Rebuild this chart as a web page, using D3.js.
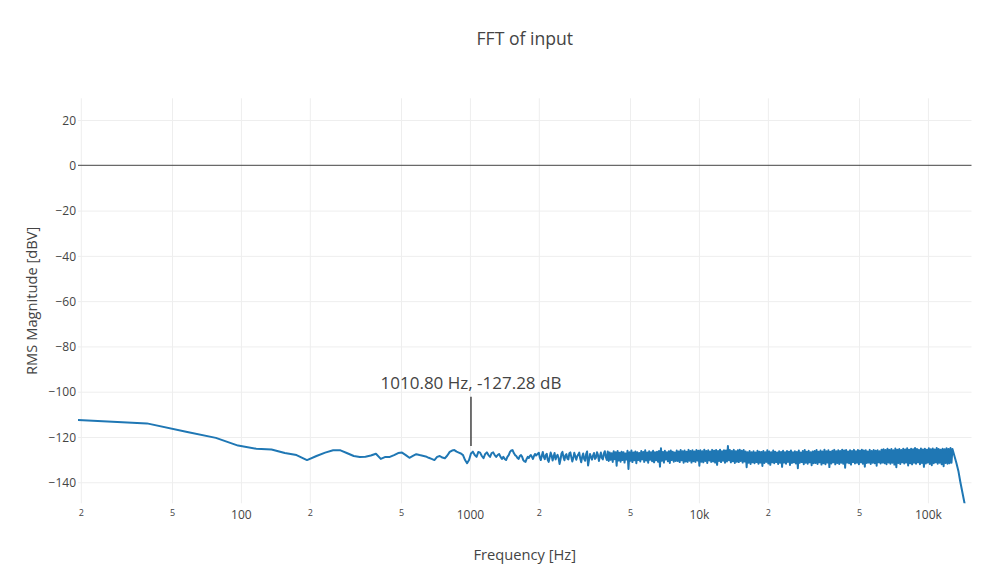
<!DOCTYPE html>
<html>
<head>
<meta charset="utf-8">
<title>FFT of input</title>
<script src="https://cdn.jsdelivr.net/npm/d3@7"></script>
<style>
  html, body { margin: 0; padding: 0; background: #fff; }
  svg { display: block; font-family: "Open Sans", verdana, arial, sans-serif; }
</style>
</head>
<body>
<svg id="chart" width="1008" height="567"></svg>
<script>
// ---- spectrum data -------------------------------------------------------
// Low end: one magnitude per FFT bin (bin k sits at k * binWidthHz)
const binWidthHz = 19.4385;
const lowBinMagDb = [
  -112.5, -114.0, -117.8, -120.4, -123.8, -125.2, -125.5, -127.1, -128.0, -130.2,
  -128.4, -126.9, -125.9, -125.9, -127.2, -128.4, -128.8, -128.7, -128.2, -127.4,
  -129.7, -128.8, -128.8, -128.0, -127.1, -126.9, -128.0, -129.2, -128.4, -127.6,
  -128.0, -128.3, -128.6, -129.2, -129.7, -130.2, -128.8, -128.4, -129.1, -129.4,
  -128.2, -126.6, -126.0, -125.8, -126.5, -126.9, -127.3, -128.0, -130.2, -131.6,
  -130.2, -127.28, -126.5, -128.0, -128.8, -126.6, -126.9, -128.4, -129.4, -127.5,
  -126.8, -128.0, -128.8, -127.1, -126.8, -128.0, -128.8, -128.0, -127.5, -128.8,
  -129.7, -128.8, -129.7, -130.2, -128.8, -128.0, -126.6, -126.0, -125.8, -127.1,
  -128.0, -128.4, -129.3, -129.7, -128.4, -128.0, -128.8, -130.2, -130.8, -131.0,
  -129.7, -128.8, -129.3, -128.4, -128.0, -128.8, -129.7, -128.4, -127.5, -128.2
];

// Upper band (2 kHz - 128 kHz): noise floor, one octave per row group
const bandFreqHz = [
  2000, 2020, 2040, 2061, 2081, 2102, 2122, 2144, 2165, 2187, 2208, 2230, 2252, 2275, 2297, 2320, 2343, 2367,
  2390, 2414, 2438, 2463, 2487, 2512, 2536, 2562, 2587, 2613, 2639, 2666, 2692, 2719, 2746, 2773, 2800, 2828,
  2856, 2885, 2914, 2943, 2972, 3002, 3031, 3062, 3092, 3123, 3154, 3186, 3217, 3249, 3281, 3314, 3347, 3381,
  3414, 3448, 3482, 3517, 3552, 3588, 3623, 3659, 3695, 3732, 3769, 3807, 3844, 3883, 3921, 3961,
  4000, 4040, 4080, 4121, 4162, 4204, 4245, 4288, 4330, 4373, 4416, 4461, 4505, 4550, 4595, 4641, 4687, 4734,
  4780, 4828, 4876, 4925, 4974, 5024, 5073, 5124, 5174, 5226, 5278, 5331, 5384, 5438, 5491, 5546, 5601, 5657,
  5713, 5770, 5827, 5886, 5944, 6004, 6063, 6124, 6184, 6246, 6308, 6371, 6434, 6498, 6562, 6628, 6694, 6761,
  6828, 6896, 6964, 7034, 7103, 7175, 7246, 7318, 7390, 7464, 7538, 7614, 7689, 7766, 7843, 7922,
  8000, 8080, 8160, 8242, 8323, 8407, 8490, 8575, 8659, 8746, 8833, 8922, 9010, 9100, 9190, 9282, 9374, 9468,
  9561, 9657, 9752, 9850, 9947, 10047, 10146, 10248, 10349, 10453, 10556, 10662, 10767, 10875, 10982, 11092,
  11202, 11314, 11426, 11540, 11654, 11771, 11887, 12007, 12126, 12247, 12368, 12492, 12615, 12741, 12867,
  12996, 13125, 13256, 13387, 13521, 13655, 13792, 13928, 14067, 14206, 14349, 14491, 14636, 14781, 14929,
  15076, 15227, 15378, 15532, 15686, 15843,
  16000, 16160, 16320, 16483, 16646, 16813, 16979, 17149, 17318, 17492, 17666, 17843, 18019, 18199, 18379,
  18563, 18747, 18935, 19122, 19313, 19504, 19699, 19894, 20093, 20291, 20495, 20698, 20905, 21112, 21323,
  21534, 21750, 21965, 22184, 22403, 22627, 22851, 23080, 23309, 23542, 23774, 24013, 24251, 24494, 24736,
  24983, 25230, 25482, 25734, 25992, 26250, 26512, 26774, 27042, 27310, 27583, 27856, 28135, 28413, 28698,
  28982, 29272, 29562, 29857, 30152, 30454, 30755, 31063, 31371, 31686,
  32000, 32320, 32640, 32967, 33293, 33626, 33958, 34298, 34637, 34984, 35331, 35685, 36038, 36398, 36758,
  37126, 37494, 37869, 38243, 38626, 39008, 39399, 39789, 40186, 40582, 40989, 41395, 41810, 42224, 42647,
  43069, 43500, 43930, 44368, 44806, 45254, 45702, 46160, 46618, 47084, 47549, 48026, 48502, 48987, 49472,
  49967, 50461, 50965, 51469, 51984, 52499, 53024, 53549, 54085, 54621, 55167, 55712, 56269, 56826, 57396,
  57965, 58544, 59123, 59714, 60304, 60907, 61510, 62126, 62742, 63371,
  64000, 64640, 65280, 65933, 66586, 67252, 67917, 68596, 69274, 69968, 70662, 71370, 72077, 72797, 73517,
  74253, 74989, 75738, 76486, 77251, 78016, 78797, 79578, 80372, 81165, 81978, 82790, 83619, 84448, 85293,
  86138, 86999, 87859, 88736, 89613, 90509, 91405, 92320, 93235, 94167, 95098, 96052, 97005, 97975, 98944,
  99933, 100922, 101930, 102938, 103968, 104998, 106048, 107098, 108170, 109242, 110333, 111424, 112538,
  113651, 114791, 115930, 117088, 118246, 119427, 120608, 121815, 123021, 124253, 125485, 126743, 128000
];
const bandMagDb = [
  // 2 - 4 kHz
  -127.0, -129.1, -130.2, -128.3, -126.6, -128.8, -129.8, -128.0, -127.4, -130.1,
  -131.0, -129.0, -126.9, -128.2, -130.4, -128.6, -127.1, -129.9, -128.7, -127.9,
  -129.2, -131.9, -130.0, -127.3, -126.6, -128.9, -130.3, -128.1, -127.6, -129.6,
  -129.9, -127.2, -126.8, -129.0, -130.8, -129.3, -127.0, -128.4, -130.1, -128.5,
  -127.8, -126.9, -129.4, -131.2, -128.8, -127.3, -129.7, -130.5, -127.6, -126.4,
  -132.6, -130.0, -127.5, -128.9, -130.0, -128.2, -127.1, -129.7, -129.1, -126.7,
  -127.9, -130.6, -128.6, -126.9, -129.3, -129.9, -127.4, -126.3, -128.8, -130.2,
  // 4 - 8 kHz
  -126.4, -130.6, -126.9, -130.1, -127.2, -131.0, -126.3, -129.8, -126.8, -132.7,
  -126.2, -130.4, -127.0, -130.9, -126.5, -130.2, -126.7, -131.3, -127.3, -130.0,
  -126.1, -134.1, -126.8, -130.5, -126.0, -131.1, -126.9, -130.3, -126.4, -131.6,
  -126.7, -130.2, -127.1, -130.8, -126.2, -129.9, -126.6, -131.0, -125.9, -130.4,
  -126.9, -131.4, -126.3, -130.1, -126.7, -130.7, -126.1, -131.2, -126.8, -130.3,
  -126.5, -130.9, -126.2, -133.1, -125.0, -130.5, -126.6, -131.3, -126.1, -130.0,
  -126.8, -130.7, -126.3, -131.5, -126.0, -130.2, -126.5, -130.9, -126.9, -130.6,
  // 8 - 16 kHz
  -126.0, -130.6, -126.4, -131.1, -125.8, -130.3, -126.3, -131.4, -126.0, -130.8,
  -126.5, -131.0, -125.7, -130.5, -126.2, -131.3, -125.9, -130.7, -126.4, -131.0,
  -125.8, -130.4, -126.1, -132.7, -125.9, -130.9, -126.3, -131.2, -125.6, -130.6,
  -126.2, -131.5, -125.9, -130.4, -126.4, -131.0, -125.7, -130.8, -126.1, -131.3,
  -125.8, -132.3, -126.2, -130.6, -125.6, -131.1, -126.3, -130.5, -125.9, -131.4,
  -126.0, -130.8, -124.0, -130.3, -125.8, -131.2, -126.2, -130.7, -125.7, -131.5,
  -126.3, -130.9, -125.9, -131.1, -125.6, -130.6, -126.1, -131.3, -125.8, -130.8,
  // 16 - 32 kHz
  -126.4, -133.4, -126.7, -131.4, -126.2, -131.9, -126.8, -131.2, -126.3, -131.6,
  -126.9, -131.1, -126.1, -131.8, -126.5, -131.3, -126.6, -132.8, -126.2, -131.5,
  -126.7, -131.0, -125.9, -131.7, -126.4, -132.3, -126.8, -131.2, -126.0, -131.6,
  -126.5, -131.1, -126.9, -131.9, -126.3, -131.4, -126.6, -133.2, -126.1, -131.3,
  -126.7, -131.8, -126.2, -131.0, -126.5, -132.4, -126.0, -131.5, -126.8, -131.2,
  -126.3, -131.7, -126.6, -133.8, -126.0, -131.4, -126.9, -131.1, -126.2, -132.0,
  -125.8, -131.4, -126.5, -131.8, -126.1, -131.2, -126.7, -132.5, -126.4, -131.6,
  // 32 - 64 kHz
  -126.2, -131.5, -125.8, -131.9, -126.5, -131.2, -126.0, -132.2, -126.4, -131.6,
  -125.6, -132.0, -126.3, -131.3, -125.9, -133.3, -126.5, -131.7, -126.1, -131.2,
  -125.7, -132.1, -126.3, -131.5, -125.9, -131.9, -126.2, -131.4, -125.6, -131.8,
  -126.0, -133.6, -125.8, -131.3, -126.4, -131.6, -125.9, -132.2, -126.2, -131.1,
  -125.7, -131.7, -126.3, -131.4, -125.8, -132.0, -126.1, -131.2, -125.6, -131.8,
  -126.0, -133.1, -125.9, -131.5, -126.4, -131.3, -125.7, -131.9, -126.2, -131.4,
  -125.8, -131.6, -126.1, -132.7, -125.9, -131.2, -126.3, -131.7, -125.6, -131.3,
  // 64 - 128 kHz
  -125.4, -131.6, -125.8, -132.0, -125.2, -131.3, -125.7, -131.8, -125.3, -131.4,
  -125.9, -132.2, -125.1, -133.4, -125.6, -131.5, -125.3, -131.9, -125.8, -131.2,
  -125.2, -131.7, -125.5, -131.3, -125.0, -132.6, -125.6, -131.6, -125.2, -132.1,
  -125.4, -131.4, -124.9, -131.8, -125.3, -131.2, -125.7, -132.0, -125.1, -131.5,
  -125.5, -133.2, -125.2, -131.7, -125.6, -131.3, -125.0, -131.9, -125.4, -132.5,
  -125.1, -131.6, -125.5, -131.2, -124.9, -131.8, -125.3, -131.4, -125.6, -132.0,
  -125.2, -132.9, -125.4, -131.5, -125.0, -131.8, -125.3, -131.6, -124.9, -131.4, -125.3
];

// Anti-alias roll-off up to the top of the spectrum
const rolloffFreqHz = [130560, 133171, 135834, 138548, 141325, 144154, 147033, 149978, 152973, 155000];
const rolloffMagDb  = [-128.4, -131.5, -135.0, -139.9, -144.3, -148.7, -153.0, -157.0, -161.0, -164.0];

// Labelled bin (the 1 kHz region)
const markerBin = 52;

// Axis ticks
const xTickValues = [20, 50, 100, 200, 500, 1000, 2000, 5000, 10000, 20000, 50000, 100000];
const xTickLabels = ["2", "5", "100", "2", "5", "1000", "2", "5", "10k", "2", "5", "100k"];
const yTickValues = [-140, -120, -100, -80, -60, -40, -20, 0, 20];
const yTickLabels = ["\u2212140", "\u2212120", "\u2212100", "\u221280", "\u221260", "\u221240", "\u221220", "0", "20"];

// ---- layout --------------------------------------------------------------
const plot = { left: 78, right: 971.5, top: 98.3, bottom: 503.3 };
const plotW = plot.right - plot.left;
const plotH = plot.bottom - plot.top;
const textColor = "#444";
const fontFamily = '"Open Sans", verdana, arial, sans-serif';

const points = [
  ...lowBinMagDb.map((v, i) => ({ f: (i + 1) * binWidthHz, v })),
  ...bandFreqHz.map((f, i) => ({ f, v: bandMagDb[i] })),
  ...rolloffFreqHz.map((f, i) => ({ f, v: rolloffMagDb[i] }))
];

const x = d3.scaleLog().domain(d3.extent(points, d => d.f)).range([plot.left, plot.right]);
const y = d3.scaleLinear().domain([-149.3, 29.6]).range([plot.bottom, plot.top]);

const svg = d3.select("#chart");

svg.append("defs").append("clipPath").attr("id", "plot-clip")
  .append("rect")
  .attr("x", plot.left).attr("y", plot.top)
  .attr("width", plotW).attr("height", plotH);

// grid
const xGrid = svg.append("g")
  .attr("transform", `translate(0,${plot.bottom})`)
  .call(d3.axisBottom(x).tickValues(xTickValues).tickSize(-plotH).tickFormat(""));
xGrid.select(".domain").remove();
xGrid.selectAll("line").attr("stroke", "#eee").attr("stroke-width", 1);

const yGrid = svg.append("g")
  .attr("transform", `translate(${plot.left},0)`)
  .call(d3.axisLeft(y).tickValues(yTickValues.filter(v => v !== 0)).tickSize(-plotW).tickFormat(""));
yGrid.select(".domain").remove();
yGrid.selectAll("line").attr("stroke", "#eee").attr("stroke-width", 1);

// zero line
svg.append("line")
  .attr("x1", plot.left).attr("x2", plot.right)
  .attr("y1", y(0)).attr("y2", y(0))
  .attr("stroke", "#444").attr("stroke-width", 1);

// spectrum trace
const line = d3.line().x(d => x(d.f)).y(d => y(d.v));
svg.append("path")
  .datum(points)
  .attr("clip-path", "url(#plot-clip)")
  .attr("fill", "none")
  .attr("stroke", "#1f77b4")
  .attr("stroke-width", 2)
  .attr("stroke-linejoin", "round")
  .attr("d", line);

// x tick labels (in-between digits drawn smaller)
const isDigit = i => /^[0-9]$/.test(xTickLabels[i]);
const xAxis = svg.append("g")
  .attr("transform", `translate(0,${plot.bottom})`)
  .call(d3.axisBottom(x).tickValues(xTickValues).tickSize(0).tickFormat((d, i) => xTickLabels[i]));
xAxis.select(".domain").remove();
xAxis.selectAll("text")
  .attr("fill", textColor)
  .attr("font-family", fontFamily)
  .attr("dy", null)
  .attr("y", (d, i) => isDigit(i) ? 12.9 : 15.5)
  .attr("font-size", (d, i) => isDigit(i) ? 9 : 12);

// y tick labels
const yAxis = svg.append("g")
  .attr("transform", `translate(${plot.left},0)`)
  .call(d3.axisLeft(y).tickValues(yTickValues).tickSize(0).tickPadding(2)
    .tickFormat((d, i) => yTickLabels[i]));
yAxis.select(".domain").remove();
yAxis.selectAll("text")
  .attr("fill", textColor)
  .attr("font-family", fontFamily)
  .attr("font-size", 12)
  .attr("dy", "0.35em");

// titles
svg.append("text")
  .attr("x", (plot.left + plot.right) / 2).attr("y", 45)
  .attr("text-anchor", "middle")
  .attr("font-size", 17.6).attr("fill", textColor)
  .text("FFT of input");

svg.append("text")
  .attr("x", (plot.left + plot.right) / 2).attr("y", 559.5)
  .attr("text-anchor", "middle")
  .attr("font-size", 14.7).attr("fill", textColor)
  .text("Frequency [Hz]");

svg.append("text")
  .attr("transform", `translate(36.7,${(plot.top + plot.bottom) / 2}) rotate(-90)`)
  .attr("text-anchor", "middle")
  .attr("font-size", 14.7).attr("fill", textColor)
  .text("RMS Magnitude [dBV]");

// annotation on the labelled bin
const marker = points[markerBin - 1];
const mx = x(marker.f), my = y(marker.v);
svg.append("line")
  .attr("x1", mx).attr("x2", mx)
  .attr("y1", my - 56.8).attr("y2", my - 7.5)
  .attr("stroke", "#444").attr("stroke-width", 1.5);
svg.append("text")
  .attr("x", mx).attr("y", my - 64.2)
  .attr("text-anchor", "middle")
  .attr("font-size", 17).attr("fill", textColor)
  .text(`${marker.f.toFixed(2)} Hz, ${marker.v.toFixed(2)} dB`);
</script>
</body>
</html>
